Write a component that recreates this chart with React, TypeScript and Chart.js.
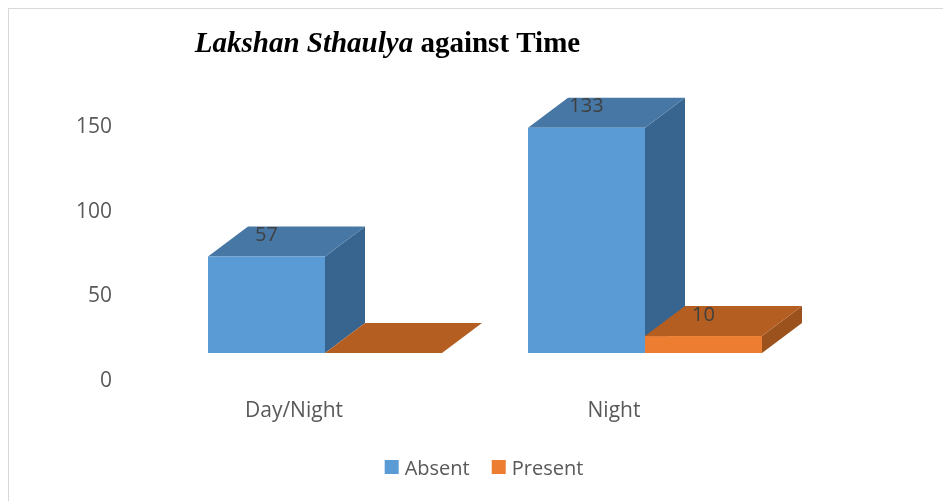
import { useEffect, useRef } from "react";
import { Chart, registerables } from "chart.js";

Chart.register(...registerables);

const categories = ["Day/Night", "Night"];
const seriesNames = ["Absent", "Present"];
const absentValues = [57, 133];
const presentValues = [0, 10];
const yTicks = [0, 50, 100, 150];
const titleItalic = "Lakshan Sthaulya";
const titleRest = " against Time";

const FRONT = ["#5B9BD5", "#ED7D31"];
const TOP = ["#4677A5", "#B45E22"];
const SIDE = ["#386590", "#9B521D"];

const SHIFT_X = 31;
const SHIFT_Y = -28;
const DEPTH_X = 40;
const DEPTH_Y = -30;
const SANS = "'Open Sans', sans-serif";
const TEXT = "#595959";

function poly(ctx: CanvasRenderingContext2D, pts: number[][], color: string) {
  ctx.beginPath();
  ctx.moveTo(pts[0][0], pts[0][1]);
  for (let i = 1; i < pts.length; i++) ctx.lineTo(pts[i][0], pts[i][1]);
  ctx.closePath();
  ctx.fillStyle = color;
  ctx.fill();
}

const bars3d = {
  id: "bars3d",
  afterDatasetsDraw(chart: any) {
    const ctx: CanvasRenderingContext2D = chart.ctx;
    const n = chart.data.labels.length;
    const metas = chart.data.datasets.map((_: any, i: number) => chart.getDatasetMeta(i));
    const labels: { x: number; y: number; text: string }[] = [];
    ctx.save();
    for (let i = 0; i < n; i++) {
      metas.forEach((meta: any, di: number) => {
        const el = meta.data[i];
        const { x, y, base, width } = el.getProps(["x", "y", "base", "width"], true);
        const l = x - width / 2 + SHIFT_X;
        const r = x + width / 2 + SHIFT_X;
        const t = y + SHIFT_Y;
        const b = base + SHIFT_Y;
        poly(ctx, [[r, t], [r + DEPTH_X, t + DEPTH_Y], [r + DEPTH_X, b + DEPTH_Y], [r, b]], SIDE[di]);
        poly(ctx, [[l, t], [l + DEPTH_X, t + DEPTH_Y], [r + DEPTH_X, t + DEPTH_Y], [r, t]], TOP[di]);
        ctx.fillStyle = FRONT[di];
        ctx.fillRect(l, t, r - l, b - t);
        const v = chart.data.datasets[di].data[i];
        if (v) labels.push({ x: (l + r) / 2, y: t - 21, text: String(v) });
      });
    }
    ctx.fillStyle = "#404040";
    ctx.font = `20px ${SANS}`;
    ctx.textAlign = "center";
    ctx.textBaseline = "middle";
    labels.forEach((lb) => ctx.fillText(lb.text, lb.x, lb.y));
    ctx.restore();
  },
};

const titleAndLegend = {
  id: "titleAndLegend",
  afterDraw(chart: any) {
    const ctx: CanvasRenderingContext2D = chart.ctx;
    ctx.save();
    const f1 = "italic bold 29px 'Liberation Serif', serif";
    const f2 = "bold 29px 'Liberation Serif', serif";
    ctx.font = f1;
    const w1 = ctx.measureText(titleItalic).width;
    ctx.font = f2;
    const w2 = ctx.measureText(titleRest).width;
    const cx = 378.5;
    const tx = cx - (w1 + w2) / 2;
    ctx.fillStyle = "#000";
    ctx.textBaseline = "alphabetic";
    ctx.textAlign = "left";
    ctx.font = f1;
    ctx.fillText(titleItalic, tx, 43);
    ctx.font = f2;
    ctx.fillText(titleRest, tx + w1, 43);
    ctx.font = `20px ${SANS}`;
    const box = 14, gapText = 6, gapItem = 22;
    const widths = seriesNames.map((s) => ctx.measureText(s).width);
    const total = widths.reduce((a, w) => a + box + gapText + w, 0) + gapItem * (seriesNames.length - 1);
    let lx = 475 - total / 2;
    const ly = 459;
    ctx.textBaseline = "middle";
    seriesNames.forEach((s, i) => {
      ctx.fillStyle = FRONT[i];
      ctx.fillRect(lx, ly - 8, box, box);
      ctx.fillStyle = TEXT;
      ctx.fillText(s, lx + box + gapText, ly + 1);
      lx += box + gapText + widths[i] + gapItem;
    });
    ctx.restore();
  },
};

export default function App() {
  const ref = useRef<HTMLCanvasElement>(null);
  useEffect(() => {
    if (!ref.current) return;
    const chart = new Chart(ref.current, {
      type: "bar",
      data: {
        labels: categories,
        datasets: [
          { label: seriesNames[0], data: absentValues, backgroundColor: "rgba(0,0,0,0)" },
          { label: seriesNames[1], data: presentValues, backgroundColor: "rgba(0,0,0,0)" },
        ],
      },
      options: {
        animation: false,
        responsive: true,
        maintainAspectRatio: false,
        layout: { padding: { left: 0, right: 169, top: 118, bottom: 0 } },
        datasets: { bar: { categoryPercentage: 0.73125, barPercentage: 1 } },
        plugins: { legend: { display: false }, title: { display: false }, tooltip: { enabled: false } },
        scales: {
          x: {
            grid: { display: false, drawTicks: false },
            border: { display: false },
            ticks: { color: TEXT, font: { family: SANS, size: 21 }, padding: 17 },
            afterFit: (s: any) => { s.height = 120; },
          },
          y: {
            min: 0,
            max: 150,
            grid: { display: false, drawTicks: false },
            border: { display: false },
            ticks: { color: TEXT, font: { family: SANS, size: 21 }, padding: 22 },
            afterBuildTicks: (s: any) => { s.ticks = yTicks.map((v) => ({ value: v })); },
            afterFit: (s: any) => { s.width = 125; },
          },
        },
      },
      plugins: [bars3d, titleAndLegend],
    });
    return () => chart.destroy();
  }, []);
  return (
    <div
      style={{
        position: "fixed",
        left: 8,
        top: 8,
        borderTop: "1px solid #d9d9d9",
        borderLeft: "1px solid #d9d9d9",
        width: 934,
        height: 492,
      }}
    >
      <div style={{ position: "relative", width: 934, height: 492 }}>
        <canvas ref={ref} />
      </div>
    </div>
  );
}
